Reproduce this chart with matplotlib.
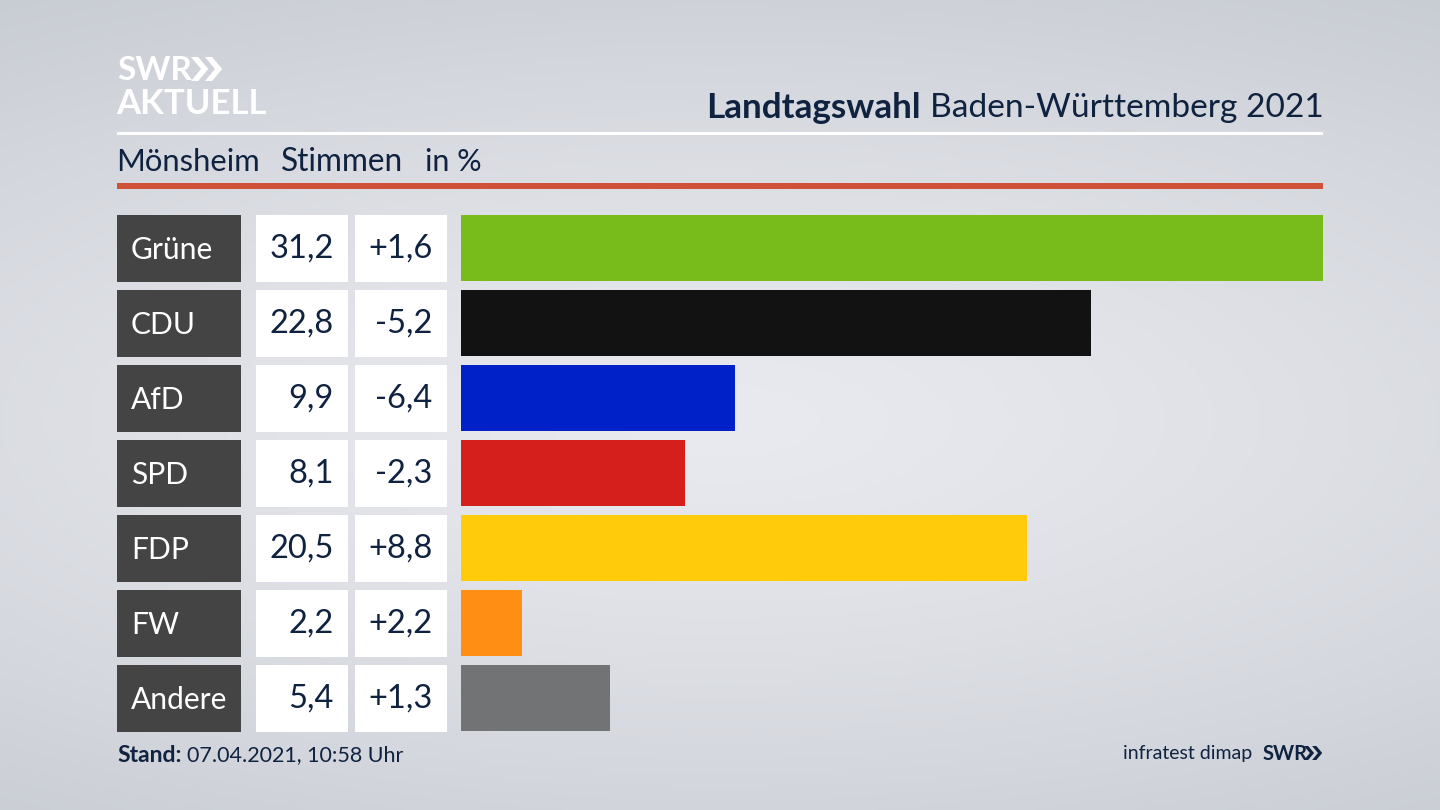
from matplotlib import pyplot as plt
from matplotlib.patches import Rectangle, Polygon
import numpy as np

plt.rcParams['font.family'] = ['Lato', 'DejaVu Sans']

# Data
parties = ["Grüne", "CDU", "AfD", "SPD", "FDP", "FW", "Andere"]
votes = [31.2, 22.8, 9.9, 8.1, 20.5, 2.2, 5.4]
diffs = ["+1,6", "-5,2", "-6,4", "-2,3", "+8,8", "+2,2", "+1,3"]
colors = ["#78bc1b", "#121212", "#0021c8", "#d51f1c", "#ffcb0a", "#ff8f14", "#727375"]

NAVY = "#0f2240"
W, H = 1440, 810

fig = plt.figure(figsize=(W / 100, H / 100), dpi=100)

# pixel canvas for the layout
ax = fig.add_axes([0, 0, 1, 1])
ax.set_xlim(0, W)
ax.set_ylim(H, 0)
ax.axis("off")

# background, light in the middle, darker at top and bottom
yy, xx = np.mgrid[0:1:200j, 0:1:356j]
dist = np.sqrt(((xx - 0.5) / 0.95) ** 2 + ((yy - 0.52) / 0.62) ** 2)
dist = np.clip(dist, 0, 1)
light = np.array([233, 234, 239]) / 255
dark = np.array([200, 204, 211]) / 255
bg = light + (dark - light) * dist[..., None] ** 1.3
ax.imshow(bg, extent=[0, W, H, 0], aspect="auto", zorder=0, interpolation="bilinear")

# logo
ax.text(117, 70, "SWR", color="white", fontsize=24, fontweight="bold", va="center", ha="left")
ax.text(116, 104, "AKTUELL", color="white", fontsize=25, fontweight="bold", va="center", ha="left")


def chevrons(x, y, h, color):
    w = h * 0.42
    t = h * 0.3
    for dx in (0, h * 0.58):
        ax.add_patch(Polygon([(x + dx, y - h / 2), (x + dx + t, y - h / 2), (x + dx + t + w, y),
                              (x + dx + t, y + h / 2), (x + dx, y + h / 2), (x + dx + w, y)],
                             closed=True, fc=color, ec="none", zorder=3))


chevrons(191, 69, 24, "white")

# header
ax.text(921, 108, "Landtagswahl", color=NAVY, fontsize=25.2, fontweight="bold", va="center", ha="right")
ax.text(930, 108, "Baden-Württemberg 2021", color=NAVY, fontsize=24.1, va="center", ha="left")
ax.add_patch(Rectangle((117, 132), 1206, 3, fc="white", ec="none", zorder=2))
ax.text(116, 162, "Mönsheim", color=NAVY, fontsize=22.3, va="center", ha="left")
ax.text(281, 162, "Stimmen", color=NAVY, fontsize=22.8, va="center", ha="left")
ax.text(425, 162, "in %", color=NAVY, fontsize=22, va="center", ha="left")
ax.add_patch(Rectangle((117, 183), 1206, 6, fc="#cf5238", ec="none", zorder=2))

# table rows left of the bars
for i in range(len(parties)):
    top = 215 + i * 75
    mid = top + 33
    ax.add_patch(Rectangle((117, top), 124, 66.5, fc="#434443", ec="none", zorder=2))
    ax.add_patch(Rectangle((256, top), 92, 66.5, fc="white", ec="none", zorder=2))
    ax.add_patch(Rectangle((355, top), 92, 66.5, fc="white", ec="none", zorder=2))
    ax.text(131, mid + 2, parties[i], color="white", fontsize=21.6, va="center", ha="left", zorder=3)
    ax.text(333.5, mid + 1, f"{votes[i]:.1f}".replace(".", ","), color=NAVY, fontsize=23.5, va="center", ha="right", zorder=3)
    ax.text(432.5, mid + 1, diffs[i], color=NAVY, fontsize=23.5, va="center", ha="right", zorder=3)

# footer
ax.text(117, 755, "Stand:", color=NAVY, fontsize=16.5, fontweight="bold", va="center", ha="left")
ax.text(187, 755, "07.04.2021, 10:58 Uhr", color=NAVY, fontsize=15.5, va="center", ha="left")
ax.text(1252, 754, "infratest dimap", color=NAVY, fontsize=14, va="center", ha="right")
ax.text(1263, 754, "SWR", color=NAVY, fontsize=14.5, fontweight="bold", va="center", ha="left")
chevrons(1304, 753, 14, NAVY)

# bars
bar_ax = fig.add_axes([461 / W, (H - 731) / H, 862 / W, 516 / H])
bar_ax.patch.set_alpha(0)
bar_ax.barh(range(len(parties)), votes, height=0.885, color=colors)
bar_ax.set_xlim(0, max(votes))
bar_ax.set_ylim(6.4425, -0.4425)
bar_ax.axis("off")

fig.savefig("out.png", dpi=100)
